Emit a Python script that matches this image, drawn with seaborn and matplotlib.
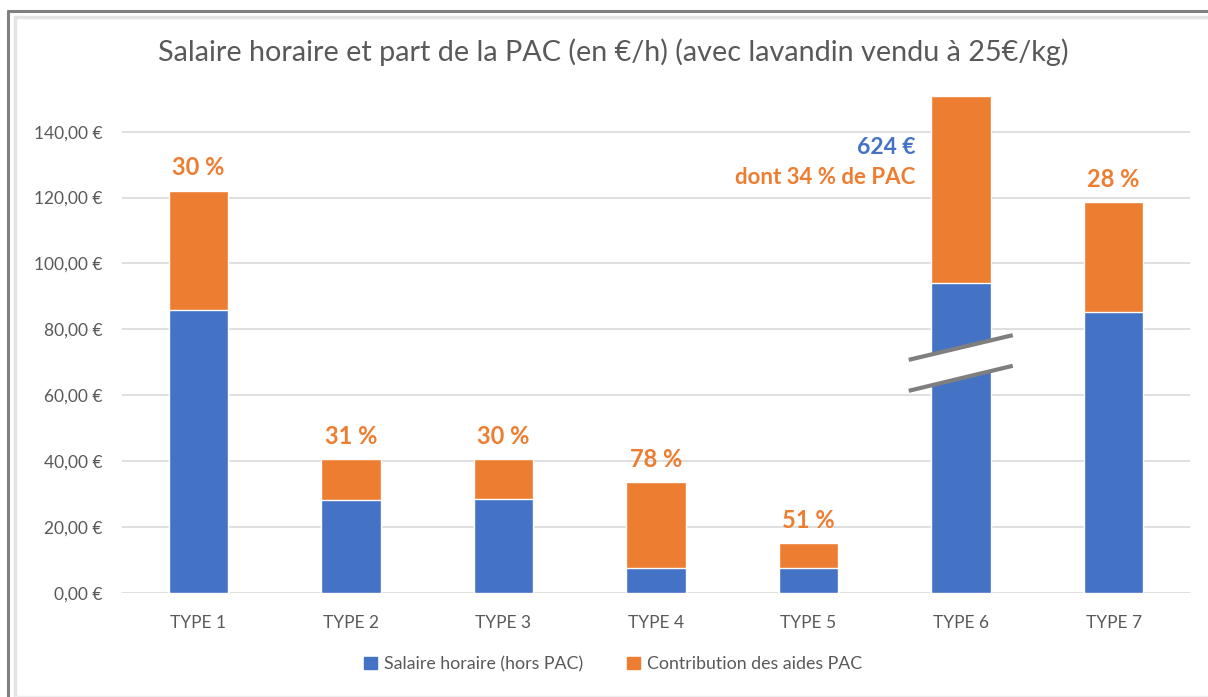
import numpy as np
import pandas as pd
import seaborn as sns
import matplotlib.pyplot as plt
from matplotlib.patches import Patch, Polygon
from matplotlib.lines import Line2D

# Daten
types = ["TYPE 1", "TYPE 2", "TYPE 3", "TYPE 4", "TYPE 5", "TYPE 6", "TYPE 7"]
salaire = [85.8, 28.2, 28.4, 7.4, 7.4, 94.0, 85.3]      # Salaire horaire (hors PAC)
pac = [36.3, 12.4, 12.2, 26.1, 7.7, 56.9, 33.3]          # Contribution des aides PAC
part_labels = ["30 %", "31 %", "30 %", "78 %", "51 %", "", "28 %"]
y_ticks = [0, 20, 40, 60, 80, 100, 120, 140]

BLUE = "#4472C4"
ORANGE = "#ED7D31"
GREY_TXT = "#595959"

df = pd.DataFrame({"type": types, "salaire": salaire, "pac": pac})
df["total"] = df["salaire"] + df["pac"]

sns.set_theme(style="white")
plt.rcParams["font.family"] = ["Lato", "DejaVu Sans"]

fig = plt.figure(figsize=(12.08, 6.97), dpi=100)
ax = fig.add_axes([0.101, 0.1497, 0.884, 0.7559])

sns.barplot(data=df, x="type", y="total", color=ORANGE, width=0.39, saturation=1, ax=ax, zorder=3)
sns.barplot(data=df, x="type", y="salaire", color=BLUE, width=0.39, saturation=1, ax=ax, zorder=3)

ax.set_xlim(-0.5, 6.5)
ax.set_ylim(0, 160)
ax.set_yticks(y_ticks)
ax.set_yticklabels([f"{v:.2f} €".replace(".", ",") for v in y_ticks])
ax.yaxis.grid(True, color="#D9D9D9", lw=1.2, zorder=0)
ax.set_axisbelow(True)
for s in ax.spines.values():
    s.set_visible(False)
ax.set_xlabel("")
ax.set_ylabel("")
ax.tick_params(axis="y", colors=GREY_TXT, labelsize=12.5, length=0, pad=14)
ax.tick_params(axis="x", colors=GREY_TXT, labelsize=12.5, length=0, pad=16)

# Prozentwerte über den Balken
for i, row in df.iterrows():
    if part_labels[i]:
        ax.annotate(part_labels[i], (i, row["total"]), xytext=(0, 16.5), textcoords="offset points",
                    ha="center", va="center", color=ORANGE, fontsize=17, fontweight="bold")

# Type 6: echte Werte
i6 = 5
ax.annotate("624 €", (i6, df.loc[i6, "total"]), xytext=(-33, -37.5), textcoords="offset points",
            ha="right", va="center", color=BLUE, fontsize=16.5, fontweight="bold")
ax.annotate("dont 34 % de PAC", (i6, df.loc[i6, "total"]), xytext=(-33, -59), textcoords="offset points",
            ha="right", va="center", color=ORANGE, fontsize=16, fontweight="bold")

# Achsenbruch-Markierung auf Type 6
x0, x1 = i6 - 0.343, i6 + 0.339
brk = Polygon([(x0, 70.7), (x1, 78.2), (x1, 68.9), (x0, 61.3)], closed=True,
              facecolor="white", edgecolor="none", zorder=4)
ax.add_patch(brk)
ax.plot([x0, x1], [70.7, 78.2], color="#7F7F7F", lw=3, zorder=5, solid_capstyle="butt")
ax.plot([x0, x1], [61.3, 68.9], color="#7F7F7F", lw=3, zorder=5, solid_capstyle="butt")

fig.text(0.5075, 1 - 52 / 697, "Salaire horaire et part de la PAC (en €/h) (avec lavandin vendu à 25€/kg)",
         ha="center", va="center", fontsize=20.7, color=GREY_TXT)

handles = [Patch(color=BLUE, label="Salaire horaire (hors PAC)"),
           Patch(color=ORANGE, label="Contribution des aides PAC")]
leg = fig.legend(handles=handles, loc="center", bbox_to_anchor=(0.5075, 1 - 664 / 697), ncol=2,
                 frameon=False, fontsize=12.8, handlelength=0.7, handleheight=0.7,
                 handletextpad=0.4, columnspacing=2.5)
for t in leg.get_texts():
    t.set_color(GREY_TXT)

# Rahmen
W, H = 1208, 697
def fline(x, y, c, lw):
    fig.add_artist(Line2D(np.array(x) / W, 1 - np.array(y) / H, color=c, lw=lw, transform=fig.transFigure))

fline([8, W], [11, 11], "#808080", 2.2)
fline([8, 8], [11, H], "#808080", 2.2)
fline([14.5, W], [16.5, 16.5], "#E3E3E3", 2.5)
fline([14.5, 14.5], [16.5, H], "#E3E3E3", 2.5)
fline([14.5, W], [696, 696], "#EEEEEE", 1)

fig.savefig("out.png", dpi=100)
